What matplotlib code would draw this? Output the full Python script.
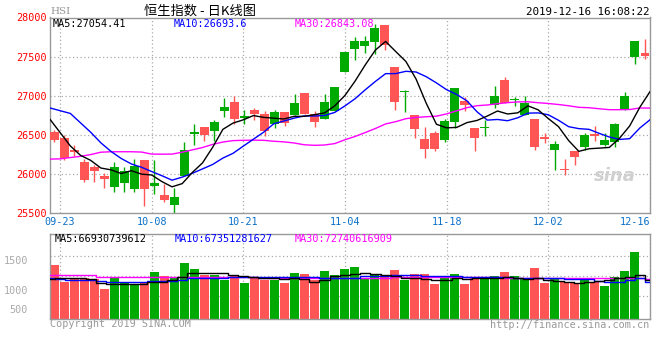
import matplotlib
matplotlib.use("Agg")
import matplotlib.pyplot as plt

W, H = 660, 360

dates = ["09-20", "09-23", "09-24", "09-25", "09-26", "09-27", "09-30", "10-02", "10-03", "10-04",
         "10-08", "10-09", "10-10", "10-11", "10-14", "10-15", "10-16", "10-17", "10-18", "10-21",
         "10-22", "10-23", "10-24", "10-25", "10-28", "10-29", "10-30", "10-31", "11-01", "11-04",
         "11-05", "11-06", "11-07", "11-08", "11-11", "11-12", "11-13", "11-14", "11-15", "11-18",
         "11-19", "11-20", "11-21", "11-22", "11-25", "11-26", "11-27", "11-28", "11-29", "12-02",
         "12-03", "12-04", "12-05", "12-06", "12-09", "12-10", "12-11", "12-12", "12-13", "12-16"]

opens = [26534, 26466, 26308, 26158, 26086, 25974, 25842, 25893, 25816, 26175,
         25845, 25735, 25610, 25979, 26520, 26607, 26547, 26804, 26915, 26725,
         26825, 26774, 26645, 26795, 26761, 27030, 26774, 26701, 26804, 27304,
         27599, 27633, 27684, 27902, 27363, 27055, 26761, 26453, 26530, 26432,
         26663, 26940, 26594, 26585, 26880, 27197, 26945, 26761, 26710, 26479,
         26303, 26068, 26299, 26342, 26517, 26368, 26406, 26825, 27496, 27543]
highs = [26569, 26496, 26368, 26192, 26120, 26017, 26150, 26094, 26192, 26180,
         26180, 25870, 25820, 26406, 26645, 26607, 26688, 26966, 27000, 26816,
         26846, 26800, 26816, 26795, 27017, 27030, 26812, 27017, 27107, 27560,
         27748, 27761, 27915, 27902, 27363, 27068, 26761, 26607, 26547, 26710,
         27094, 26983, 26594, 26692, 27120, 27240, 26987, 27000, 26710, 26521,
         26427, 26197, 26299, 26521, 26620, 26530, 26658, 27051, 27697, 27722]
lows = [26406, 26175, 26235, 25906, 25906, 25829, 25778, 25778, 25778, 25598,
        25750, 25648, 25500, 25979, 26376, 26427, 26427, 26727, 26645, 26645,
        26688, 26483, 26590, 26612, 26761, 26774, 26598, 26701, 26804, 27304,
        27458, 27547, 27530, 27586, 26825, 26791, 26457, 26201, 26291, 26406,
        26590, 26803, 26299, 26483, 26846, 26902, 26868, 26761, 26303, 26393,
        26056, 25983, 26120, 26303, 26419, 26355, 26350, 26825, 27402, 27466]
closes = [26432, 26205, 26282, 25927, 26034, 25940, 26094, 26043, 26107, 25816,
          25885, 25672, 25712, 26312, 26530, 26496, 26671, 26851, 26710, 26735,
          26774, 26556, 26799, 26658, 26902, 26774, 26663, 26915, 27107, 27560,
          27697, 27697, 27864, 27650, 26915, 27065, 26573, 26316, 26316, 26684,
          27094, 26880, 26457, 26595, 27004, 26902, 26955, 26902, 26342, 26449,
          26389, 26062, 26214, 26504, 26490, 26436, 26645, 27000, 27697, 27509]

ma5 = [26700, 26530, 26360, 26240, 26176, 26078, 26055, 26008, 26044, 26000,
       25989, 25905, 25838, 25879, 26022, 26144, 26344, 26572, 26652, 26693,
       26748, 26725, 26715, 26704, 26738, 26738, 26759, 26782, 26872, 27004,
       27188, 27395, 27585, 27694, 27565, 27438, 27213, 26904, 26637, 26591,
       26597, 26658, 26686, 26742, 26806, 26768, 26783, 26872, 26821, 26710,
       26607, 26429, 26291, 26324, 26332, 26341, 26458, 26615, 26854, 27054]
ma10 = [26845, 26810, 26775, 26655, 26535, 26400, 26290, 26200, 26130, 26088,
        26033, 25980, 25923, 25962, 26011, 26067, 26124, 26205, 26266, 26357,
        26446, 26535, 26643, 26678, 26715, 26743, 26742, 26749, 26788, 26871,
        26963, 27077, 27184, 27283, 27284, 27313, 27304, 27244, 27165, 27078,
        27017, 26936, 26795, 26690, 26698, 26682, 26720, 26779, 26782, 26758,
        26688, 26606, 26581, 26572, 26521, 26474, 26443, 26453, 26589, 26694]
ma30 = [26192, 26195, 26212, 26227, 26250, 26280, 26286, 26286, 26286, 26282,
        26256, 26255, 26256, 26280, 26310, 26340, 26380, 26410, 26428, 26432,
        26434, 26432, 26420, 26412, 26398, 26375, 26368, 26372, 26390, 26439,
        26481, 26531, 26583, 26641, 26670, 26708, 26724, 26733, 26740, 26769,
        26809, 26849, 26874, 26883, 26899, 26913, 26922, 26924, 26912, 26902,
        26889, 26873, 26853, 26848, 26835, 26823, 26823, 26825, 26845, 26843]

volume = [1417, 1133, 1205, 1195, 1183, 1017, 1222, 1128, 1095, 1128,
          1300, 1233, 1217, 1450, 1355, 1250, 1250, 1167, 1250, 1117,
          1222, 1167, 1167, 1122, 1283, 1267, 1162, 1317, 1250, 1355,
          1383, 1195, 1250, 1250, 1333, 1167, 1262, 1262, 1100, 1195,
          1267, 1100, 1222, 1178, 1233, 1300, 1238, 1195, 1372, 1122,
          1195, 1138, 1122, 1195, 1128, 1067, 1222, 1322, 1638, 525]
vol_ma5 = [1183, 1195, 1195, 1195, 1183, 1122, 1105, 1095, 1095, 1105,
           1128, 1138, 1167, 1222, 1278, 1288, 1288, 1278, 1250, 1233,
           1222, 1205, 1195, 1183, 1195, 1178, 1138, 1167, 1233, 1250,
           1272, 1278, 1262, 1250, 1238, 1195, 1205, 1178, 1167, 1167,
           1195, 1183, 1195, 1205, 1205, 1222, 1195, 1183, 1195, 1167,
           1150, 1128, 1112, 1138, 1150, 1167, 1195, 1222, 1250, 1167]
vol_ma10 = [1195, 1183, 1175, 1170, 1167, 1145, 1138, 1138, 1138, 1138,
            1150, 1150, 1150, 1167, 1195, 1195, 1195, 1195, 1212, 1212,
            1212, 1215, 1215, 1215, 1215, 1215, 1212, 1205, 1195, 1205,
            1205, 1238, 1238, 1238, 1250, 1250, 1250, 1238, 1238, 1230,
            1225, 1212, 1212, 1212, 1212, 1212, 1195, 1195, 1195, 1195,
            1195, 1183, 1183, 1178, 1150, 1140, 1140, 1167, 1195, 1128]
vol_ma30 = [1250, 1250, 1250, 1250, 1250, 1222, 1222, 1222, 1222, 1222,
            1212, 1212, 1212, 1212, 1212, 1212, 1212, 1212, 1212, 1212,
            1212, 1205, 1205, 1205, 1200, 1200, 1200, 1195, 1195, 1195,
            1195, 1200, 1205, 1205, 1212, 1212, 1212, 1212, 1212, 1212,
            1212, 1212, 1212, 1212, 1212, 1205, 1205, 1200, 1200, 1195,
            1195, 1195, 1195, 1195, 1195, 1195, 1195, 1195, 1195, 1183]

label_dates = ["09-23", "10-08", "10-21", "11-04", "11-18", "12-02", "12-16"]
price_ticks = [25500, 26000, 26500, 27000, 27500, 28000]

RED = "#ff5555"
GREEN = "#00aa00"
GRID = "#aaaaaa"
MONO = "DejaVu Sans Mono"


def fx(px):
    return px / W


def fy(py):
    return 1 - py / H


def line_x(i):
    # the MA lines and date grid run on a slightly wider step than the candles
    return i * 1.016 - 0.43


def style_axes(ax, grid_x):
    for s in ax.spines.values():
        s.set_color("#999999")
        s.set_linewidth(1)
    ax.set_xlim(-0.43, 59.51)
    ax.set_xticks(grid_x)
    ax.tick_params(length=0)
    for g in grid_x:
        ax.axvline(g, color=GRID, lw=0.9, ls=(0, (1, 2)), zorder=0)


def run():
    fig = plt.figure(figsize=(6.6, 3.6), dpi=100)
    xs = list(range(len(dates)))
    lx = [line_x(i) for i in xs]
    colors = [GREEN if c >= o else RED for o, c in zip(opens, closes)]
    grid_x = [line_x(dates.index(d)) for d in label_dates]

    # price panel
    ax = fig.add_axes([fx(50), fy(213.3), 600 / W, (213.3 - 17.5) / H])
    style_axes(ax, grid_x)
    for p in price_ticks[1:-1]:
        ax.axhline(p, color=GRID, lw=0.9, ls=(0, (1, 2)), zorder=0)
    ax.vlines(xs, lows, highs, colors=colors, lw=1, zorder=2)
    heights = [max(abs(c - o), 14) for o, c in zip(opens, closes)]
    bottoms = [(o + c) / 2 - h / 2 for o, c, h in zip(opens, closes, heights)]
    ax.bar(xs, heights, bottom=bottoms, width=0.87, color=colors, lw=0, zorder=3)
    ax.plot(lx, ma30, color="#ff00ff", lw=1, zorder=4)
    ax.plot(lx, ma10, color="#0000ff", lw=1, zorder=4)
    ax.plot(lx, ma5, color="#000000", lw=1, zorder=4)
    ax.set_ylim(25500, 28000)
    ax.set_yticks(price_ticks)
    ax.set_yticklabels([str(p) for p in price_ticks], family=MONO, fontsize=7.3, color="red")
    ax.tick_params(axis="y", pad=2.5)
    ax.set_xticklabels(label_dates, family=MONO, fontsize=7.3, color="#0a70c8")
    ax.tick_params(axis="x", pad=3)
    ax.get_xticklabels()[-1].set_ha("right")

    # volume panel
    vlo, vhi = 512, 1928
    ax2 = fig.add_axes([fx(50), fy(319.3), 600 / W, 85 / H])
    style_axes(ax2, grid_x)
    for f in (0.278, 0.513, 0.748):
        ax2.plot([0, 1], [f, f], transform=ax2.transAxes, color=GRID, lw=0.9,
                 ls=(0, (1, 2)), zorder=0)
    ax2.bar(xs, volume, width=0.87, color=colors, lw=0, zorder=2)
    ax2.plot(lx, vol_ma30, color="#ff00ff", lw=1, drawstyle="steps-mid", zorder=3)
    ax2.plot(lx, vol_ma10, color="#0000ff", lw=1, drawstyle="steps-mid", zorder=3)
    ax2.plot(lx, vol_ma5, color="#000000", lw=1, drawstyle="steps-mid", zorder=3)
    ax2.set_ylim(vlo, vhi)
    ax2.set_yticks([1000, 1500])
    ax2.set_yticklabels(["1000", "1500"], family=MONO, fontsize=7.3, color="#aaaaaa")
    ax2.tick_params(axis="y", pad=15.5)
    ax2.set_xticklabels([])
    ax2.text(-0.0367, 667, "500", transform=ax2.get_yaxis_transform(), ha="right",
             va="center", family=MONO, fontsize=7.3, color="#aaaaaa")

    # header and labels
    fig.text(fx(50), fy(11), "HSI", family="DejaVu Serif", fontsize=7.5, color="#999999", va="center")
    fig.text(fx(200), fy(11), "恒生指数 - 日K线图", ha="center", va="center",
             family=["Noto Sans CJK SC", "DejaVu Sans"], fontsize=9.5, color="black")
    fig.text(fx(649), fy(12), "2019-12-16 16:08:22", ha="right", va="center",
             family=MONO, fontsize=7.8, color="black")
    for x, s, c in [(53, "MA5:27054.41", "black"), (174, "MA10:26693.6", "#0000ff"),
                    (295, "MA30:26843.08", "#ff00ff")]:
        fig.text(fx(x), fy(24), s, color=c, family=MONO, fontsize=7.3, va="center")
    for x, s, c in [(55, "MA5:66930739612", "black"), (175, "MA10:67351281627", "#0000ff"),
                    (295, "MA30:72740616909", "#ff00ff")]:
        fig.text(fx(x), fy(239), s, color=c, family=MONO, fontsize=7.3, va="center")
    fig.text(fx(50), fy(324), "Copyright 2019 SINA.COM", family=MONO, fontsize=7.3,
             color="#999999", va="center")
    fig.text(fx(649), fy(325), "http://finance.sina.com.cn", family=MONO, fontsize=7.3,
             color="#999999", va="center", ha="right")
    fig.text(fx(615), fy(176), "sina", family="DejaVu Sans", fontsize=13, style="italic",
             weight="bold", color="#d0d0d0", ha="center", va="center")

    fig.savefig("out.png", dpi=100, facecolor="white")


run()
